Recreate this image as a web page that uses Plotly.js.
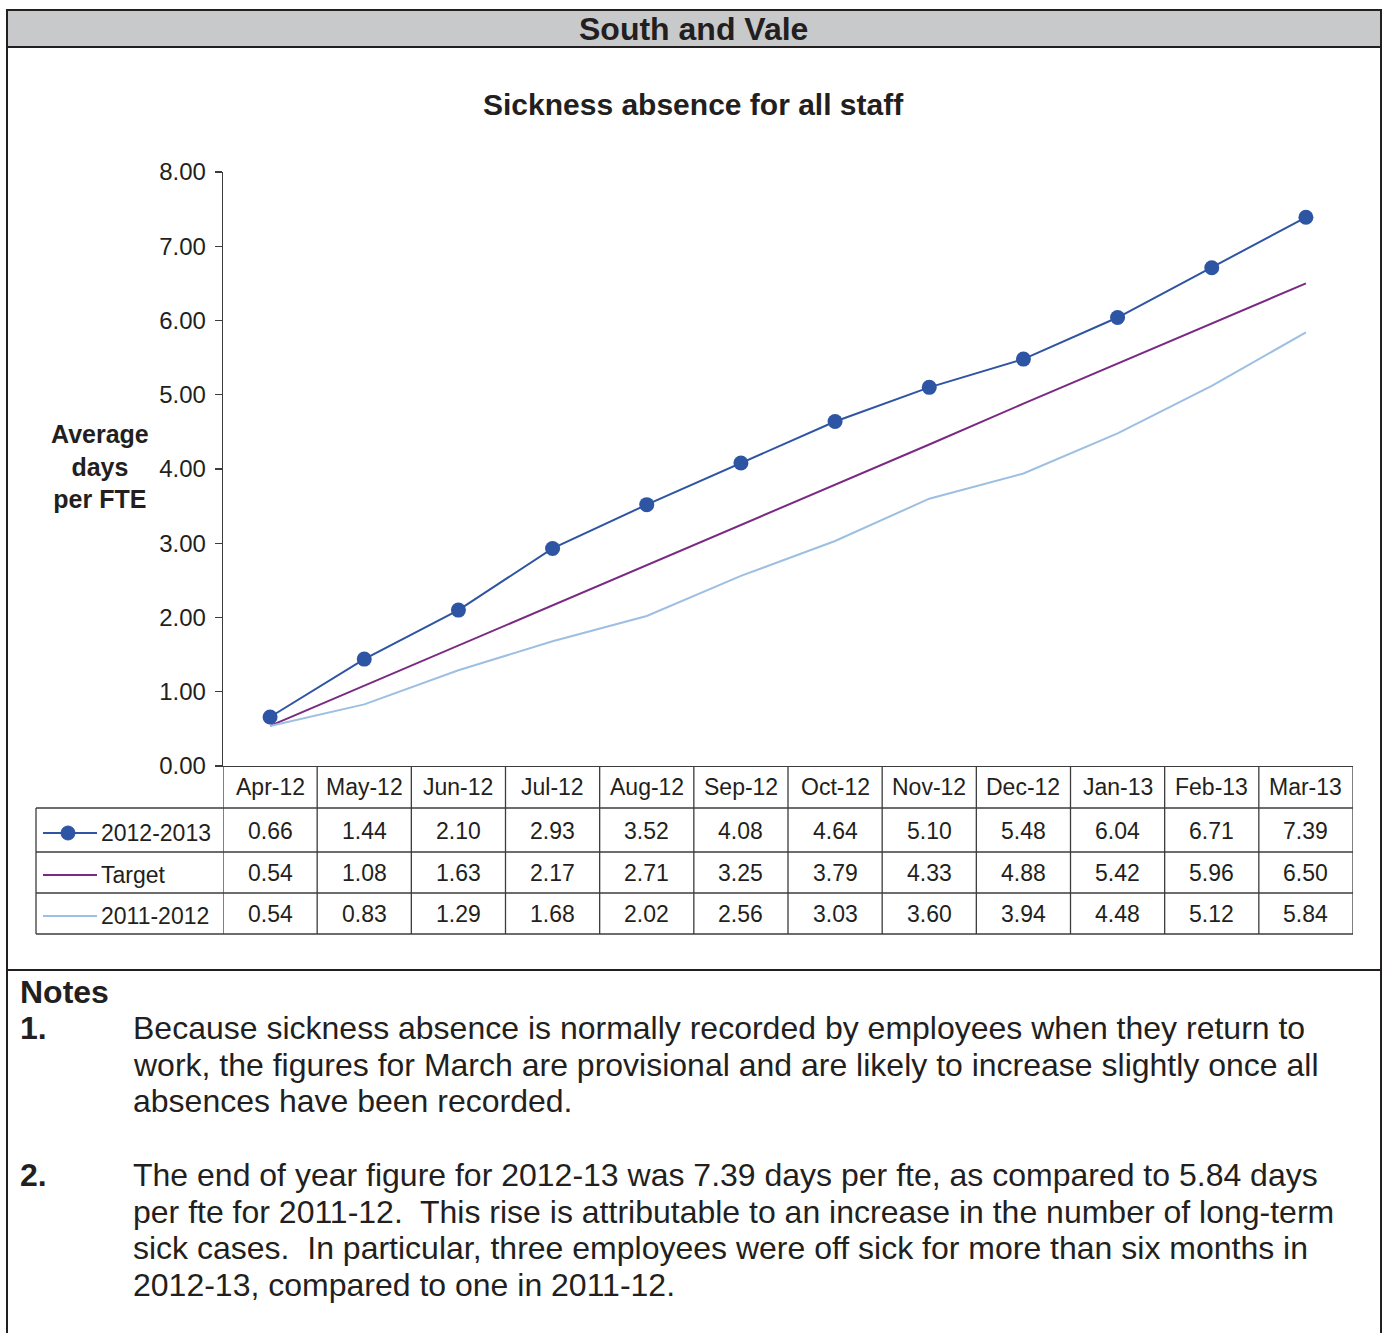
<!DOCTYPE html>
<html>
<head>
<meta charset="utf-8">
<script src="https://cdn.plot.ly/plotly-3.0.1.min.js"></script>
<style>html,body{margin:0;padding:0;background:#fff;}#chart{width:1386px;height:1333px;}</style>
</head>
<body>
<div id="chart"></div>
<script>
const categories = ['Apr-12','May-12','Jun-12','Jul-12','Aug-12','Sep-12','Oct-12','Nov-12','Dec-12','Jan-13','Feb-13','Mar-13'];
const values2012_13 = [0.66,1.44,2.10,2.93,3.52,4.08,4.64,5.10,5.48,6.04,6.71,7.39];
const valuesTarget = [0.54,1.08,1.63,2.17,2.71,3.25,3.79,4.33,4.88,5.42,5.96,6.50];
const values2011_12 = [0.54,0.83,1.29,1.68,2.02,2.56,3.03,3.60,3.94,4.48,5.12,5.84];
const seriesNames = ['2012-2013','Target','2011-2012'];
const yTickValues = [0,1,2,3,4,5,6,7,8];
const headerTitle = 'South and Vale';
const chartTitle = 'Sickness absence for all staff';
const yAxisTitle = 'Average<br>days<br>per FTE';
const notesHeading = 'Notes';
const note1Lines = [
  'Because sickness absence is normally recorded by employees when they return to',
  'work, the figures for March are provisional and are likely to increase slightly once all',
  'absences have been recorded.'
];
const note2Lines = [
  'The end of year figure for 2012-13 was 7.39 days per fte, as compared to 5.84 days',
  'per fte for 2011-12.&nbsp; This rise is attributable to an increase in the number of long-term',
  'sick cases.&nbsp; In particular, three employees were off sick for more than six months in',
  '2012-13, compared to one in 2011-12.'
];

const W = 1386, H = 1333;
const px = x => x / W;
const py = y => 1 - y / H;
const FONT = '"Liberation Sans", Arial, Helvetica, sans-serif';
const TXT = '#231f20';
const colors = ['#2e54a4', '#7a2a82', '#9dbfe2'];
const seriesData = [values2012_13, valuesTarget, values2011_12];

const traces = seriesData.map((vals, i) => ({
  type: 'scatter',
  mode: i === 0 ? 'lines+markers' : 'lines',
  x: categories.map((c, k) => k),
  y: vals,
  name: seriesNames[i],
  line: {color: colors[i], width: 2},
  marker: {color: colors[i], size: 15},
  showlegend: false,
  hoverinfo: 'skip'
}));

const shapes = [];
const annotations = [];

// frame
shapes.push({type:'rect', xref:'paper', yref:'paper', x0:px(7), x1:px(1381), y0:py(11), y1:py(47), fillcolor:'#c8c9cb', line:{width:0}, layer:'below'});
shapes.push({type:'line', xref:'paper', yref:'paper', x0:px(6), x1:px(1382), y0:py(10), y1:py(10), line:{color:TXT, width:2}});
shapes.push({type:'line', xref:'paper', yref:'paper', x0:px(6), x1:px(1382), y0:py(47), y1:py(47), line:{color:TXT, width:2}});
shapes.push({type:'line', xref:'paper', yref:'paper', x0:px(6), x1:px(1382), y0:py(970), y1:py(970), line:{color:TXT, width:2}});
shapes.push({type:'line', xref:'paper', yref:'paper', x0:px(7), x1:px(7), y0:py(9), y1:py(1333), line:{color:TXT, width:2}});
shapes.push({type:'line', xref:'paper', yref:'paper', x0:px(1381), x1:px(1381), y0:py(9), y1:py(1333), line:{color:TXT, width:2}});

// table grid
const tblLine = {color:'#3c3c3c', width:1.3};
const rowYs = [808, 852, 893, 934];
rowYs.forEach(y => shapes.push({type:'line', xref:'paper', yref:'paper', x0:px(36), x1:px(1353), y0:py(y), y1:py(y), line:tblLine}));
shapes.push({type:'line', xref:'paper', yref:'paper', x0:px(36), x1:px(36), y0:py(808), y1:py(934), line:tblLine});
for (let k = 0; k <= categories.length; k++) {
  shapes.push({type:'line', xref:'x', yref:'paper', x0:k-0.5, x1:k-0.5, y0:py(766), y1:py(934), line:tblLine});
}

// category row
const catY = 787;
categories.forEach((c, k) => annotations.push({xref:'x', yref:'paper', x:k, y:py(catY), text:c, showarrow:false, xanchor:'center', yanchor:'middle', font:{family:FONT, size:23, color:TXT}}));
// value rows
const valRowYs = [831, 873, 914];
seriesData.forEach((vals, i) => {
  vals.forEach((v, k) => annotations.push({xref:'x', yref:'paper', x:k, y:py(valRowYs[i]), text:v.toFixed(2), showarrow:false, xanchor:'center', yanchor:'middle', font:{family:FONT, size:23, color:TXT}}));
  // legend key
  shapes.push({type:'line', xref:'paper', yref:'paper', x0:px(43), x1:px(97), y0:py(valRowYs[i]+2), y1:py(valRowYs[i]+2), line:{color:colors[i], width:2}});
  if (i === 0) {
    shapes.push({type:'circle', xref:'paper', yref:'paper', x0:px(61), x1:px(75), y0:py(valRowYs[i]+9), y1:py(valRowYs[i]-5), fillcolor:colors[i], line:{color:colors[i], width:1}});
  }
  annotations.push({xref:'paper', yref:'paper', x:px(99), y:py(valRowYs[i]+2), text:seriesNames[i], showarrow:false, xanchor:'left', yanchor:'middle', font:{family:FONT, size:23, color:TXT}});
});

// titles
annotations.push({xref:'paper', yref:'paper', x:px(693), y:py(29), text:headerTitle, showarrow:false, xanchor:'center', yanchor:'middle', font:{family:FONT, size:32, color:TXT, weight:'bold'}});
annotations.push({xref:'paper', yref:'paper', x:px(694), y:py(104), text:chartTitle, showarrow:false, xanchor:'center', yanchor:'middle', font:{family:FONT, size:30, color:TXT, weight:'bold'}});
annotations.push({xref:'paper', yref:'paper', x:px(100), y:py(467), text:yAxisTitle, showarrow:false, xanchor:'center', yanchor:'middle', align:'center', font:{family:FONT, size:25, color:TXT, weight:'bold'}});

// notes
const noteBold = {family:FONT, size:32, color:TXT, weight:'bold'};
const noteFont = {family:FONT, size:32, color:TXT};
const lineGap = 36.7;
annotations.push({xref:'paper', yref:'paper', x:px(18), y:py(992), text:notesHeading, showarrow:false, xanchor:'left', yanchor:'middle', font:noteBold});
annotations.push({xref:'paper', yref:'paper', x:px(18), y:py(1028), text:'1.', showarrow:false, xanchor:'left', yanchor:'middle', font:noteBold});
note1Lines.forEach((t, j) => annotations.push({xref:'paper', yref:'paper', x:px(131), y:py(1028 + j*lineGap), text:t, showarrow:false, xanchor:'left', yanchor:'middle', font:noteFont}));
annotations.push({xref:'paper', yref:'paper', x:px(18), y:py(1175), text:'2.', showarrow:false, xanchor:'left', yanchor:'middle', font:noteBold});
note2Lines.forEach((t, j) => annotations.push({xref:'paper', yref:'paper', x:px(131), y:py(1175 + j*lineGap), text:t, showarrow:false, xanchor:'left', yanchor:'middle', font:noteFont}));

const layout = {
  width: W, height: H, autosize: false,
  margin: {l:0, r:0, t:0, b:0, pad:0},
  paper_bgcolor: '#ffffff', plot_bgcolor: '#ffffff',
  showlegend: false,
  xaxis: {domain:[px(223), px(1353)], range:[-0.5, categories.length - 0.5], showticklabels:false, ticks:'', showgrid:false, zeroline:false, showline:true, linecolor:'#3c3c3c', linewidth:1.3, fixedrange:true},
  yaxis: {domain:[py(766), py(172)], range:[0, 8], tickvals:yTickValues, tickformat:'.2f', ticks:'outside', ticklen:7, tickcolor:'#3c3c3c', tickwidth:1.3, showline:true, linecolor:'#3c3c3c', linewidth:1.3, showgrid:false, zeroline:false, ticklabelstandoff:4, tickfont:{family:FONT, size:24, color:TXT}, fixedrange:true},
  shapes: shapes,
  annotations: annotations
};

Plotly.newPlot('chart', traces, layout, {displayModeBar:false, staticPlot:true});
</script>
</body>
</html>
